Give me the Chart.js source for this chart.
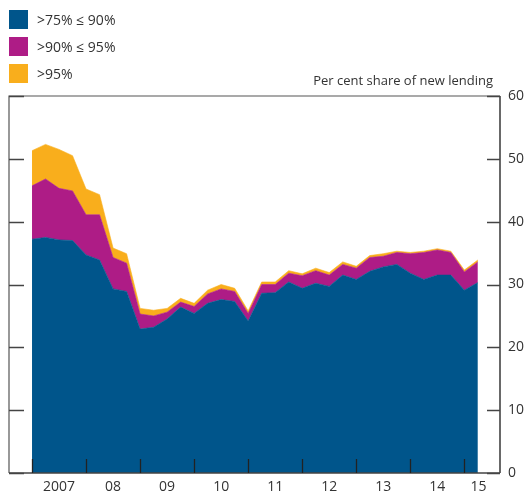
<!DOCTYPE html>
<html>
<head>
<meta charset="utf-8">
<script src="https://cdn.jsdelivr.net/npm/chart.js@4/dist/chart.umd.min.js"></script>
<style>
  html, body { margin: 0; padding: 0; background: #fff; }
  #wrap { position: relative; width: 527px; height: 498px; font-family: "Open Sans", "DejaVu Sans", sans-serif; color: #333; }
  canvas { position: absolute; left: 0; top: 0; }
  .leg { position: absolute; left: 9px; height: 19px; font-size: 14px; line-height: 19px; white-space: nowrap; }
  .leg span.sw { position: absolute; left: 0; top: 0; width: 19px; height: 19px; }
  .leg span.tx { position: absolute; left: 28px; top: 0; }
  #unit { position: absolute; right: 34px; top: 71px; font-size: 13px; white-space: nowrap; }
</style>
</head>
<body>
<div id="wrap">
  <canvas id="c" width="527" height="498"></canvas>
  <div id="legend"></div>
  <div id="unit">Per cent share of new lending</div>
</div>
<script>
// ---- data (quarterly, per cent share of new lending) ----
const quarters = [
  '2007 Q1','2007 Q2','2007 Q3','2007 Q4',
  '2008 Q1','2008 Q2','2008 Q3','2008 Q4',
  '2009 Q1','2009 Q2','2009 Q3','2009 Q4',
  '2010 Q1','2010 Q2','2010 Q3','2010 Q4',
  '2011 Q1','2011 Q2','2011 Q3','2011 Q4',
  '2012 Q1','2012 Q2','2012 Q3','2012 Q4',
  '2013 Q1','2013 Q2','2013 Q3','2013 Q4',
  '2014 Q1','2014 Q2','2014 Q3','2014 Q4',
  '2015 Q1','2015 Q2'
];
const seriesNames = ['>75% \u2264 90%', '>90% \u2264 95%', '>95%'];
const ltv75to90 = [37.2,37.5,37.1,37.0,34.7,33.9,29.3,28.9,22.9,23.2,24.5,26.4,25.4,27.0,27.6,27.3,24.2,28.6,28.7,30.4,29.4,30.2,29.7,31.5,30.8,32.1,32.8,33.2,31.8,30.8,31.5,31.5,29.1,30.3];
const ltv90to95 = [8.5,9.3,8.2,7.9,6.4,7.2,5.0,4.5,2.4,1.8,1.1,0.8,1.1,1.5,1.7,1.6,1.2,1.4,1.3,1.4,2.0,2.0,1.8,1.7,1.8,2.2,1.7,1.9,3.1,4.3,4.0,3.6,2.9,3.3];
const ltvOver95 = [5.6,5.5,6.2,5.6,4.1,3.2,1.5,1.5,0.9,0.9,0.6,0.6,0.5,0.6,0.7,0.5,0.4,0.4,0.4,0.4,0.3,0.4,0.4,0.4,0.3,0.3,0.4,0.2,0.2,0.2,0.2,0.2,0.3,0.3];
const seriesColors = ['#00558B', '#AE1C86', '#F9AE1C'];
const yTicks = [0, 10, 20, 30, 40, 50, 60];
const yearBoundaries = [2007, 2008, 2009, 2010, 2011, 2012, 2013, 2014, 2015];
const xTickLabels = ['2007', '08', '09', '10', '11', '12', '13', '14', '15'];
const xTickPositions = [2007.5, 2008.5, 2009.5, 2010.5, 2011.5, 2012.5, 2013.5, 2014.5, 2015.26];

// quarter label -> position on a continuous year axis
function qx(label) {
  const p = label.split(' Q');
  return parseInt(p[0], 10) + (parseInt(p[1], 10) - 1) / 4;
}
function pts(arr) { return arr.map((v, i) => ({ x: qx(quarters[i]), y: v })); }

// HTML legend
const legendEl = document.getElementById('legend');
seriesNames.forEach((n, i) => {
  const d = document.createElement('div');
  d.className = 'leg';
  d.style.top = (10 + i * 27) + 'px';
  d.innerHTML = '<span class="sw" style="background:' + seriesColors[i] + '"></span><span class="tx"></span>';
  d.querySelector('.tx').textContent = n;
  legendEl.appendChild(d);
});

const frame = {
  id: 'frame',
  afterDatasetsDraw(chart) {
    const { ctx, chartArea: a, scales: { x, y } } = chart;
    ctx.save();
    // frame
    ctx.strokeStyle = '#555';
    ctx.lineWidth = 1.2;
    ctx.beginPath();
    ctx.moveTo(a.left, a.bottom);
    ctx.lineTo(a.left, a.top);
    ctx.lineTo(a.right, a.top);
    ctx.stroke();
    ctx.strokeStyle = '#444';
    ctx.lineWidth = 1.6;
    ctx.beginPath();
    ctx.moveTo(a.right, a.top);
    ctx.lineTo(a.right, a.bottom);
    ctx.moveTo(a.left, a.bottom);
    ctx.lineTo(a.right, a.bottom);
    ctx.stroke();
    // y tick marks (inward, both sides)
    ctx.lineWidth = 1.4;
    yTicks.forEach(v => {
      const py = Math.round(y.getPixelForValue(v)) + 0.5;
      ctx.beginPath();
      ctx.moveTo(a.left, py); ctx.lineTo(a.left + 15, py);
      ctx.moveTo(a.right - 13, py); ctx.lineTo(a.right, py);
      ctx.stroke();
    });
    // x tick marks (inward, year boundaries)
    ctx.strokeStyle = '#222';
    ctx.lineWidth = 1.3;
    yearBoundaries.forEach(v => {
      const px = Math.round(x.getPixelForValue(v)) + 0.5;
      ctx.beginPath();
      ctx.moveTo(px, a.bottom); ctx.lineTo(px, a.bottom - 14);
      ctx.stroke();
    });
    ctx.restore();
  }
};

const fontSpec = { family: '"Open Sans", "DejaVu Sans", sans-serif', size: 14 };

new Chart(document.getElementById('c'), {
  type: 'line',
  data: {
    datasets: [
      { label: seriesNames[0], data: pts(ltv75to90), backgroundColor: seriesColors[0], borderColor: seriesColors[0], fill: 'origin' },
      { label: seriesNames[1], data: pts(ltv90to95), backgroundColor: seriesColors[1], borderColor: seriesColors[1], fill: '-1' },
      { label: seriesNames[2], data: pts(ltvOver95), backgroundColor: seriesColors[2], borderColor: seriesColors[2], fill: '-1' }
    ]
  },
  options: {
    responsive: false,
    animation: false,
    layout: { padding: { left: 9, top: 96, right: 0, bottom: 0 } },
    elements: { point: { radius: 0 }, line: { tension: 0, borderWidth: 0.6 } },
    plugins: { legend: { display: false }, tooltip: { enabled: false } },
    scales: {
      x: {
        type: 'linear',
        min: 2006.574,
        max: 2015.66,
        grid: { display: false, drawTicks: false },
        border: { display: false },
        afterBuildTicks: s => { s.ticks = xTickPositions.map(v => ({ value: v })); },
        ticks: {
          autoSkip: false,
          maxRotation: 0,
          padding: 6,
          color: '#333',
          font: fontSpec,
          callback: v => { const i = xTickPositions.indexOf(v); return i >= 0 ? xTickLabels[i] : ''; }
        },
        afterFit: s => { s.height = 25; }
      },
      y: {
        position: 'right',
        stacked: true,
        min: 0,
        max: 60,
        grid: { display: false, drawTicks: false },
        border: { display: false },
        afterBuildTicks: s => { s.ticks = yTicks.map(v => ({ value: v })); },
        ticks: { padding: 8, color: '#333', font: fontSpec },
        afterFit: s => { s.width = 27; }
      }
    }
  },
  plugins: [frame]
});
</script>
</body>
</html>
